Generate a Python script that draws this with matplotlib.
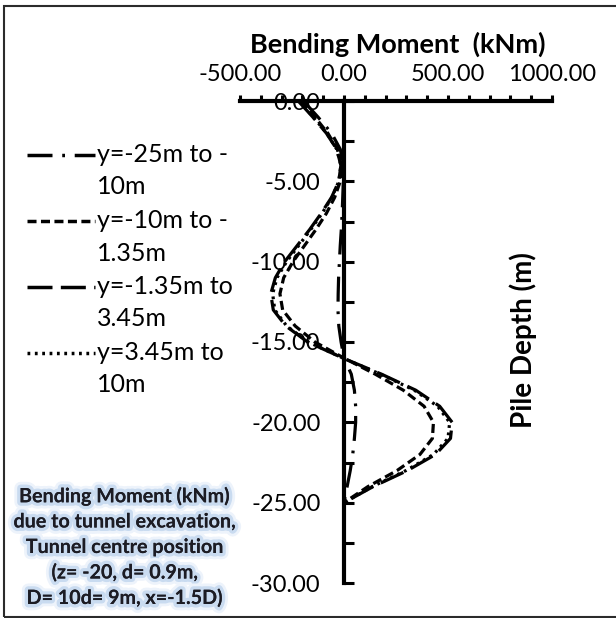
import matplotlib
matplotlib.use("Agg")
import matplotlib.pyplot as plt
import matplotlib.patheffects as pe
from matplotlib.lines import Line2D
from matplotlib.patches import Rectangle
from matplotlib.ticker import MultipleLocator

plt.rcParams["font.family"] = ["Lato", "DejaVu Sans"]
plt.rcParams["lines.scale_dashes"] = False

# pile depth (m) and bending moment (kNm) per tunnel offset range
depth = [0, -1, -2, -3, -4, -5, -6, -7, -8, -9, -10, -11, -12,
         -13, -14, -15, -16, -17, -18, -19, -20, -21, -22, -23, -24, -25]
bm_y25_10 = [-195, -125, -60, -18, -2, -3, -6, -9, -13, -18, -22, -26, -28,
             -29, -25, -14, 0, 35, 50, 56, 56, 50, 42, 30, 15, 0]
bm_y10_135 = [-205, -140, -78, -32, -12, -18, -45, -85, -135, -190, -245, -290, -308,
              -295, -235, -140, 0, 150, 285, 385, 430, 425, 365, 255, 115, 0]
bm_y135_345 = [-220, -150, -85, -35, -15, -25, -60, -110, -165, -225, -285, -330, -352,
               -340, -280, -175, -5, 180, 345, 460, 520, 512, 440, 305, 140, 0]
bm_y345_10 = [-215, -148, -83, -35, -15, -25, -58, -106, -160, -218, -276, -322, -343,
              -333, -276, -172, -5, 175, 338, 450, 508, 500, 430, 298, 136, 0]

labels = [("y=-25m to -", "10m"), ("y=-10m to -", "1.35m"),
          ("y=-1.35m to", "3.45m"), ("y=3.45m to", "10m")]
styles = [(0, (18, 7, 2, 7)), (0, (6.5, 3.2)), (0, (18, 6)), (0, (2, 3.3))]
series = [bm_y25_10, bm_y10_135, bm_y135_345, bm_y345_10]

note = ["Bending Moment (kNm)", "due to tunnel excavation,", "Tunnel centre position",
        "(z= -20, d= 0.9m,", "D= 10d= 9m, x=-1.5D)"]

W, H = 616, 618
fig = plt.figure(figsize=(W / 100, H / 100), dpi=100)
ax = fig.add_axes([240 / W, 1 - 583 / H, 312 / W, 482 / H])

for vals, ls in zip(series, styles):
    ax.plot(vals, depth, color="black", lw=2.3, linestyle=ls,
            dash_capstyle="butt", clip_on=False)

ax.set_xlim(-500, 1000)
ax.set_ylim(-30, 0)

for s in ("right", "bottom"):
    ax.spines[s].set_visible(False)
ax.spines["left"].set_position(("data", 0))
ax.spines["left"].set_linewidth(3)
ax.spines["top"].set_linewidth(3)

ax.xaxis.set_ticks_position("top")
ax.set_xticks([-500, 0, 500, 1000])
ax.xaxis.set_minor_locator(MultipleLocator(100))
ax.set_xticklabels([f"{v:.2f}" for v in [-500, 0, 500, 1000]])
ax.tick_params(axis="x", which="both", direction="out", length=4.5, width=2.2,
               labelsize=17, pad=7, colors="black")

ax.set_yticks([0, -5, -10, -15, -20, -25, -30])
ax.yaxis.set_minor_locator(MultipleLocator(2.5))
ax.set_yticklabels([f"{v:.2f}" for v in [0, -5, -10, -15, -20, -25, -30]])
ax.tick_params(axis="y", which="both", direction="in", length=7, width=2.2,
               labelsize=17, pad=17)

fig.text(398 / W, 1 - 53 / H, "Bending Moment  (kNm)", ha="center", va="baseline",
         fontsize=19.5, fontweight="bold")
fig.text(523 / W, 1 - 340 / H, "Pile Depth (m)", ha="center", va="center",
         rotation=90, fontsize=20, fontweight="bold")

# legend drawn by hand so the key sits on the first text line
for i, ((l1, l2), ls) in enumerate(zip(labels, styles)):
    yy = 1 - (155 + 66 * i) / H
    fig.add_artist(Line2D([27 / W, 95 / W], [yy, yy], color="black", lw=2.5,
                          linestyle=ls, dash_capstyle="butt", transform=fig.transFigure))
    fig.text(97 / W, yy, l1, ha="left", va="center", fontsize=18)
    fig.text(97 / W, yy - 32 / H, l2, ha="left", va="center", fontsize=18)

glow = [pe.withStroke(linewidth=9, foreground="#edf3fb"),
        pe.withStroke(linewidth=5, foreground="#c9dbf0"), pe.Normal()]
for i, line in enumerate(note):
    fig.text(125 / W, 1 - (496 + 25.5 * i) / H, line, ha="center", va="center",
             fontsize=14.2, fontweight="bold", color="#1c1c24", path_effects=glow)

fig.add_artist(Rectangle((4 / W, 1 / H), 1.05, 1 - 7 / H, fill=False,
                         lw=1.5, ec="#2b2b2b", transform=fig.transFigure))

fig.savefig("out.png", dpi=100)
